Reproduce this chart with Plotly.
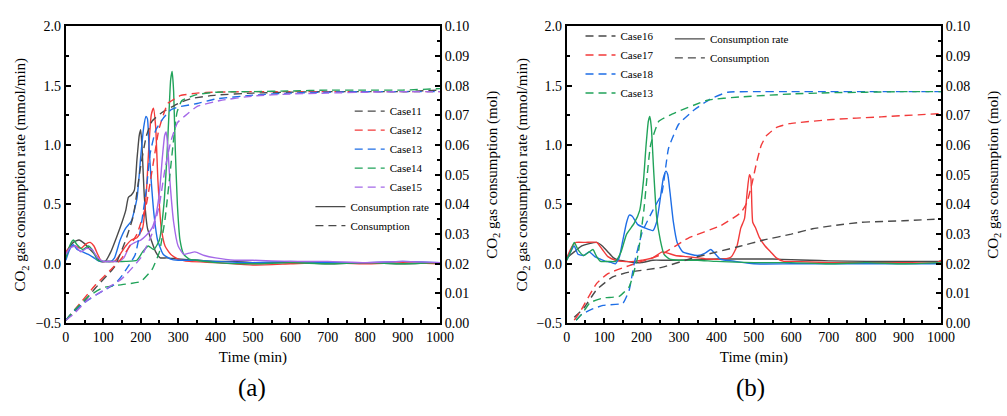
import plotly.graph_objects as go

# ---------------- Panel (a) : consumption rate (mmol/min) ----------------
t11_rate = [0, 10, 20, 35, 50, 65, 80, 92, 105, 120, 135, 150, 160, 167, 175, 183, 190, 196, 200, 204, 210, 218, 228, 240, 252, 270, 300, 350, 400, 450, 500, 600, 700, 800, 900, 1000]
case11_rate = [0.08, 0.14, 0.18, 0.20, 0.17, 0.12, 0.07, 0.02, 0.02, 0.10, 0.22, 0.35, 0.45, 0.56, 0.58, 0.62, 0.88, 1.08, 1.13, 0.95, 0.55, 0.30, 0.20, 0.10, 0.05, 0.05, 0.04, 0.03, 0.02, 0.02, 0.01, 0.01, 0.0, 0.01, 0.0, 0.01]

t12_rate = [0, 10, 25, 40, 55, 65, 75, 85, 95, 110, 130, 145, 160, 175, 190, 205, 215, 222, 228, 234, 240, 246, 255, 265, 280, 300, 330, 400, 500, 600, 700, 800, 900, 1000]
case12_rate = [0.10, 0.14, 0.15, 0.13, 0.17, 0.18, 0.15, 0.08, 0.02, 0.02, 0.02, 0.08, 0.15, 0.20, 0.22, 0.30, 0.60, 1.00, 1.25, 1.31, 1.15, 0.70, 0.30, 0.15, 0.08, 0.04, 0.02, 0.01, -0.01, 0.0, 0.01, 0.0, 0.01, 0.0]

t13_rate = [0, 10, 20, 30, 45, 60, 75, 90, 105, 120, 130, 145, 160, 175, 190, 200, 208, 214, 218, 222, 228, 236, 245, 260, 280, 300, 350, 400, 500, 600, 700, 800, 900, 1000]
case13_rate = [0.03, 0.12, 0.16, 0.12, 0.10, 0.08, 0.05, 0.02, 0.02, 0.02, 0.05, 0.20, 0.30, 0.36, 0.55, 0.90, 1.15, 1.24, 1.22, 1.00, 0.70, 0.40, 0.20, 0.08, 0.04, 0.03, 0.03, 0.02, 0.01, 0.02, 0.01, 0.01, 0.02, 0.01]

t14_rate = [0, 10, 20, 30, 45, 60, 70, 85, 100, 130, 160, 190, 205, 220, 235, 250, 262, 270, 276, 280, 284, 288, 292, 298, 305, 315, 330, 350, 400, 500, 600, 700, 800, 900, 1000]
case14_rate = [0.05, 0.15, 0.20, 0.16, 0.12, 0.15, 0.12, 0.03, 0.02, 0.02, 0.02, 0.03, 0.10, 0.15, 0.12, 0.20, 0.50, 0.90, 1.30, 1.55, 1.62, 1.45, 1.00, 0.50, 0.20, 0.08, 0.04, 0.03, 0.01, 0.0, 0.01, 0.0, 0.01, 0.0, 0.01]

t15_rate = [0, 10, 25, 40, 55, 70, 85, 100, 120, 140, 155, 170, 185, 200, 215, 230, 240, 250, 258, 264, 268, 272, 278, 288, 300, 315, 330, 345, 370, 400, 450, 500, 600, 700, 800, 900, 1000]
case15_rate = [0.08, 0.13, 0.15, 0.10, 0.13, 0.12, 0.05, 0.02, 0.02, 0.02, 0.05, 0.15, 0.18, 0.20, 0.24, 0.30, 0.40, 0.60, 0.90, 1.08, 1.11, 1.00, 0.70, 0.35, 0.15, 0.08, 0.09, 0.10, 0.07, 0.05, 0.03, 0.03, 0.02, 0.02, 0.01, 0.02, 0.01]

# ---------------- Panel (a) : consumption (mol) ----------------
t11_cons = [0, 40, 80, 130, 160, 180, 200, 215, 230, 255, 300, 333, 400, 500, 600, 700, 800, 900, 1000]
case11_cons = [0.001, 0.006, 0.012, 0.019, 0.028, 0.036, 0.053, 0.063, 0.068, 0.0708, 0.074, 0.0756, 0.0768, 0.0775, 0.0778, 0.078, 0.078, 0.078, 0.0785]

t12_cons = [0, 40, 80, 120, 150, 190, 215, 235, 248, 260, 272, 290, 307, 350, 400, 500, 600, 700, 800, 900, 1000]
case12_cons = [0.001, 0.007, 0.013, 0.018, 0.022, 0.030, 0.040, 0.055, 0.065, 0.070, 0.074, 0.0755, 0.0767, 0.0775, 0.0778, 0.078, 0.078, 0.078, 0.078, 0.078, 0.078]

t13_cons = [0, 20, 50, 100, 130, 150, 185, 200, 215, 225, 240, 260, 281, 300, 351, 400, 500, 600, 700, 800, 900, 1000]
case13_cons = [0.001, 0.004, 0.007, 0.011, 0.013, 0.016, 0.023, 0.032, 0.045, 0.057, 0.065, 0.069, 0.0719, 0.0728, 0.074, 0.0755, 0.0768, 0.0775, 0.0778, 0.078, 0.078, 0.078]

t14_cons = [0, 20, 60, 100, 150, 200, 230, 250, 265, 278, 288, 297, 310, 350, 400, 500, 600, 700, 800, 900, 1000]
case14_cons = [0.001, 0.004, 0.009, 0.012, 0.013, 0.014, 0.018, 0.024, 0.035, 0.050, 0.062, 0.071, 0.075, 0.077, 0.0778, 0.078, 0.0782, 0.0785, 0.0785, 0.0785, 0.079]

t15_cons = [0, 20, 60, 100, 150, 200, 230, 250, 265, 280, 298, 320, 351, 412, 500, 600, 700, 800, 900, 1000]
case15_cons = [0.001, 0.003, 0.008, 0.011, 0.015, 0.022, 0.030, 0.040, 0.052, 0.061, 0.0675, 0.070, 0.073, 0.075, 0.0765, 0.0772, 0.0775, 0.0778, 0.078, 0.078]

# ---------------- Panel (b) : consumption rate (mmol/min) ----------------
t16_rate = [0, 20, 40, 60, 80, 95, 110, 125, 140, 160, 180, 200, 230, 260, 300, 350, 400, 450, 500, 550, 600, 650, 700, 800, 900, 1000]
case16_rate = [0.05, 0.10, 0.15, 0.17, 0.18, 0.15, 0.10, 0.05, 0.03, 0.02, 0.01, 0.01, 0.03, 0.03, 0.03, 0.035, 0.04, 0.04, 0.04, 0.04, 0.035, 0.03, 0.025, 0.02, 0.02, 0.02]

t17_rate = [0, 15, 25, 50, 80, 95, 110, 130, 150, 180, 200, 230, 255, 270, 290, 320, 350, 380, 420, 440, 455, 465, 475, 482, 488, 492, 497, 505, 515, 530, 545, 560, 580, 600, 700, 800, 900, 990, 1000]
case17_rate = [0.05, 0.15, 0.18, 0.18, 0.18, 0.12, 0.06, 0.03, 0.02, 0.02, 0.03, 0.05, 0.10, 0.09, 0.07, 0.06, 0.05, 0.04, 0.04, 0.06, 0.15, 0.30, 0.38, 0.60, 0.75, 0.72, 0.35, 0.30, 0.22, 0.15, 0.10, 0.05, 0.02, 0.02, 0.01, 0.01, 0.01, 0.01, 0.03]

t18_rate = [0, 10, 20, 30, 45, 60, 75, 90, 105, 120, 130, 140, 150, 160, 167, 175, 190, 210, 230, 240, 250, 258, 265, 270, 276, 285, 295, 310, 330, 350, 370, 385, 395, 410, 450, 500, 600, 700, 800, 900, 1000]
case18_rate = [0.03, 0.10, 0.15, 0.08, 0.07, 0.10, 0.06, 0.04, 0.02, 0.01, 0.00, 0.05, 0.20, 0.35, 0.41, 0.40, 0.33, 0.30, 0.28, 0.35, 0.55, 0.72, 0.78, 0.75, 0.60, 0.35, 0.18, 0.10, 0.08, 0.07, 0.09, 0.12, 0.09, 0.04, 0.02, 0.0, 0.0, 0.0, 0.0, 0.0, 0.0]

t13b_rate = [0, 10, 20, 30, 45, 60, 70, 80, 90, 110, 130, 145, 160, 180, 195, 205, 212, 218, 222, 226, 232, 240, 250, 260, 275, 300, 350, 400, 500, 600, 700, 800, 900, 1000]
case13b_rate = [0.03, 0.10, 0.18, 0.12, 0.07, 0.10, 0.12, 0.06, 0.02, 0.02, 0.02, 0.10, 0.25, 0.34, 0.45, 0.70, 1.00, 1.20, 1.24, 1.15, 0.80, 0.40, 0.20, 0.08, 0.04, 0.03, 0.03, 0.02, 0.01, 0.01, 0.0, 0.01, 0.0, 0.01]

# ---------------- Panel (b) : consumption (mol) ----------------
t16_cons = [20, 45, 80, 123, 167, 254, 341, 463, 526, 600, 657, 720, 788, 900, 1000]
case16_cons = [0.002, 0.005, 0.0113, 0.0156, 0.0172, 0.0188, 0.0221, 0.0259, 0.028, 0.030, 0.0318, 0.033, 0.034, 0.0345, 0.0351]

t17_cons = [20, 35, 80, 110, 167, 254, 324, 412, 465, 481, 495, 508, 520, 534, 560, 595, 709, 840, 1000]
case17_cons = [0.001, 0.0037, 0.0134, 0.0167, 0.0194, 0.0232, 0.0286, 0.0329, 0.0372, 0.0405, 0.047, 0.0545, 0.060, 0.0632, 0.0659, 0.0672, 0.0686, 0.0695, 0.0706]

t18_cons = [25, 40, 71, 97, 150, 167, 180, 202, 230, 254, 272, 299, 341, 385, 430, 500, 600, 700, 800, 900, 1000]
case18_cons = [0.001, 0.003, 0.0049, 0.006, 0.0067, 0.0112, 0.0199, 0.0308, 0.038, 0.0437, 0.0589, 0.067, 0.0719, 0.0756, 0.0778, 0.078, 0.078, 0.078, 0.078, 0.078, 0.078]

t13b_cons = [25, 40, 62, 97, 140, 167, 189, 206, 224, 246, 283, 376, 463, 600, 700, 800, 900, 1000]
case13b_cons = [0.001, 0.003, 0.0069, 0.0085, 0.009, 0.0123, 0.022, 0.038, 0.060, 0.068, 0.0705, 0.0751, 0.0762, 0.0772, 0.0776, 0.0778, 0.078, 0.078]

names_a = ["Case11", "Case12", "Case13", "Case14", "Case15"]
names_b = ["Case16", "Case17", "Case18", "Case13"]

GRAY = "#4a4a4a"
RED = "#f23a3a"
BLUE = "#1e6ee6"
GREEN = "#21a35a"
PURPLE = "#a468e8"
FONT = "'Liberation Serif', 'Times New Roman', Times, serif"
DASH = "8px,5px"

fig = go.Figure()

panel_a = [
    (names_a[0], GRAY, t11_rate, case11_rate, t11_cons, case11_cons),
    (names_a[1], RED, t12_rate, case12_rate, t12_cons, case12_cons),
    (names_a[2], BLUE, t13_rate, case13_rate, t13_cons, case13_cons),
    (names_a[3], GREEN, t14_rate, case14_rate, t14_cons, case14_cons),
    (names_a[4], PURPLE, t15_rate, case15_rate, t15_cons, case15_cons),
]
panel_b = [
    (names_b[0], GRAY, t16_rate, case16_rate, t16_cons, case16_cons),
    (names_b[1], RED, t17_rate, case17_rate, t17_cons, case17_cons),
    (names_b[2], BLUE, t18_rate, case18_rate, t18_cons, case18_cons),
    (names_b[3], GREEN, t13b_rate, case13b_rate, t13b_cons, case13b_cons),
]

for items, xa, yl, yr, leg in [(panel_a, "x", "y", "y2", "legend"), (panel_b, "x2", "y3", "y4", "legend3")]:
    for name, col, tr, vr, tc, vc in items:
        fig.add_trace(go.Scatter(x=tr, y=vr, mode="lines", xaxis=xa, yaxis=yl,
                                 line=dict(color=col, width=1.4, shape="spline", smoothing=0.5),
                                 showlegend=False, hoverinfo="skip"))
    for name, col, tr, vr, tc, vc in items:
        fig.add_trace(go.Scatter(x=tc, y=vc, mode="lines", xaxis=xa, yaxis=yr, name=name,
                                 line=dict(color=col, width=1.4, dash=DASH, shape="spline", smoothing=0.4),
                                 legend=leg))

# style legend entries
for xa, yl, leg in [("x", "y", "legend2"), ("x2", "y3", "legend4")]:
    fig.add_trace(go.Scatter(x=[None], y=[None], mode="lines", xaxis=xa, yaxis=yl,
                             name="Consumption rate", line=dict(color=GRAY, width=1.4), legend=leg))
    fig.add_trace(go.Scatter(x=[None], y=[None], mode="lines", xaxis=xa, yaxis=yl,
                             name="Consumption", line=dict(color=GRAY, width=1.4, dash=DASH), legend=leg))

W, H = 1007, 416
top, bottom = 20, 328
ydom = [1 - bottom / H, 1 - top / H]
xdom_a = [63 / W, 444 / W]
xdom_b = [573 / W, 954 / W]

tickfont = dict(family=FONT, size=14, color="black")
titlefont = dict(family=FONT, size=15, color="black")

def xaxis(dom, anchor):
    return dict(domain=dom, anchor=anchor, range=[0, 1000], dtick=100, tick0=0,
                ticks="inside", ticklen=5, tickwidth=1.5, tickcolor="black",
                minor=dict(ticks="inside", ticklen=3, dtick=50, tickwidth=1.5, tickcolor="black"),
                showline=True, linewidth=2, linecolor="black", mirror=True,
                showgrid=False, zeroline=False, tickfont=tickfont,
                title=dict(text="Time (min)", font=titlefont, standoff=8))

def yleft(anchor, standoff):
    return dict(domain=ydom, anchor=anchor, range=[-0.5, 2.0], dtick=0.5, tick0=0, tickformat=".1f",
                ticks="inside", ticklen=5, tickwidth=1.5, tickcolor="black",
                minor=dict(ticks="inside", ticklen=3, dtick=0.25, tickwidth=1.5, tickcolor="black"),
                showline=True, linewidth=2, linecolor="black", showgrid=False, zeroline=False,
                tickfont=tickfont,
                title=dict(text="CO<sub>2</sub> gas consumption rate (mmol/min)", font=titlefont, standoff=standoff))

def yright(anchor, overlay):
    return dict(domain=ydom, anchor=anchor, overlaying=overlay, side="right", range=[0, 0.10],
                dtick=0.01, tick0=0, tickformat=".2f",
                ticks="inside", ticklen=5, tickwidth=1.5, tickcolor="black",
                minor=dict(ticks="inside", ticklen=3, dtick=0.005, tickwidth=1.5, tickcolor="black"),
                showline=True, linewidth=2, linecolor="black", showgrid=False, zeroline=False,
                tickfont=tickfont,
                title=dict(text="CO<sub>2</sub> gas consumption (mol)", font=titlefont, standoff=18))

legfont = dict(family=FONT, size=11, color="black")
def leg(x, y):
    return dict(x=x / W, y=1 - y / H, xanchor="left", yanchor="top", bgcolor="rgba(0,0,0,0)",
                font=legfont, borderwidth=0, tracegroupgap=0)

fig.update_layout(
    width=W, height=H, margin=dict(l=0, r=0, t=0, b=0),
    paper_bgcolor="white", plot_bgcolor="white",
    font=dict(family=FONT),
    xaxis=xaxis(xdom_a, "y"), yaxis=yleft("x", 6), yaxis2=yright("x", "y"),
    xaxis2=xaxis(xdom_b, "y3"), yaxis3=yleft("x2", 5), yaxis4=yright("x2", "y3"),
    legend=leg(352, 93), legend2=leg(312, 192),
    legend3=leg(587, 15), legend4=leg(678, 18),
    annotations=[
        dict(text="(a)", x=253 / W, y=1 - 395 / H, xref="paper", yref="paper", showarrow=False,
             xanchor="center", yanchor="middle", font=dict(family=FONT, size=25, color="black")),
        dict(text="(b)", x=760 / W, y=1 - 395 / H, xref="paper", yref="paper", showarrow=False,
             xanchor="center", yanchor="middle", font=dict(family=FONT, size=25, color="black")),
    ],
)

fig.write_html("out.html")
